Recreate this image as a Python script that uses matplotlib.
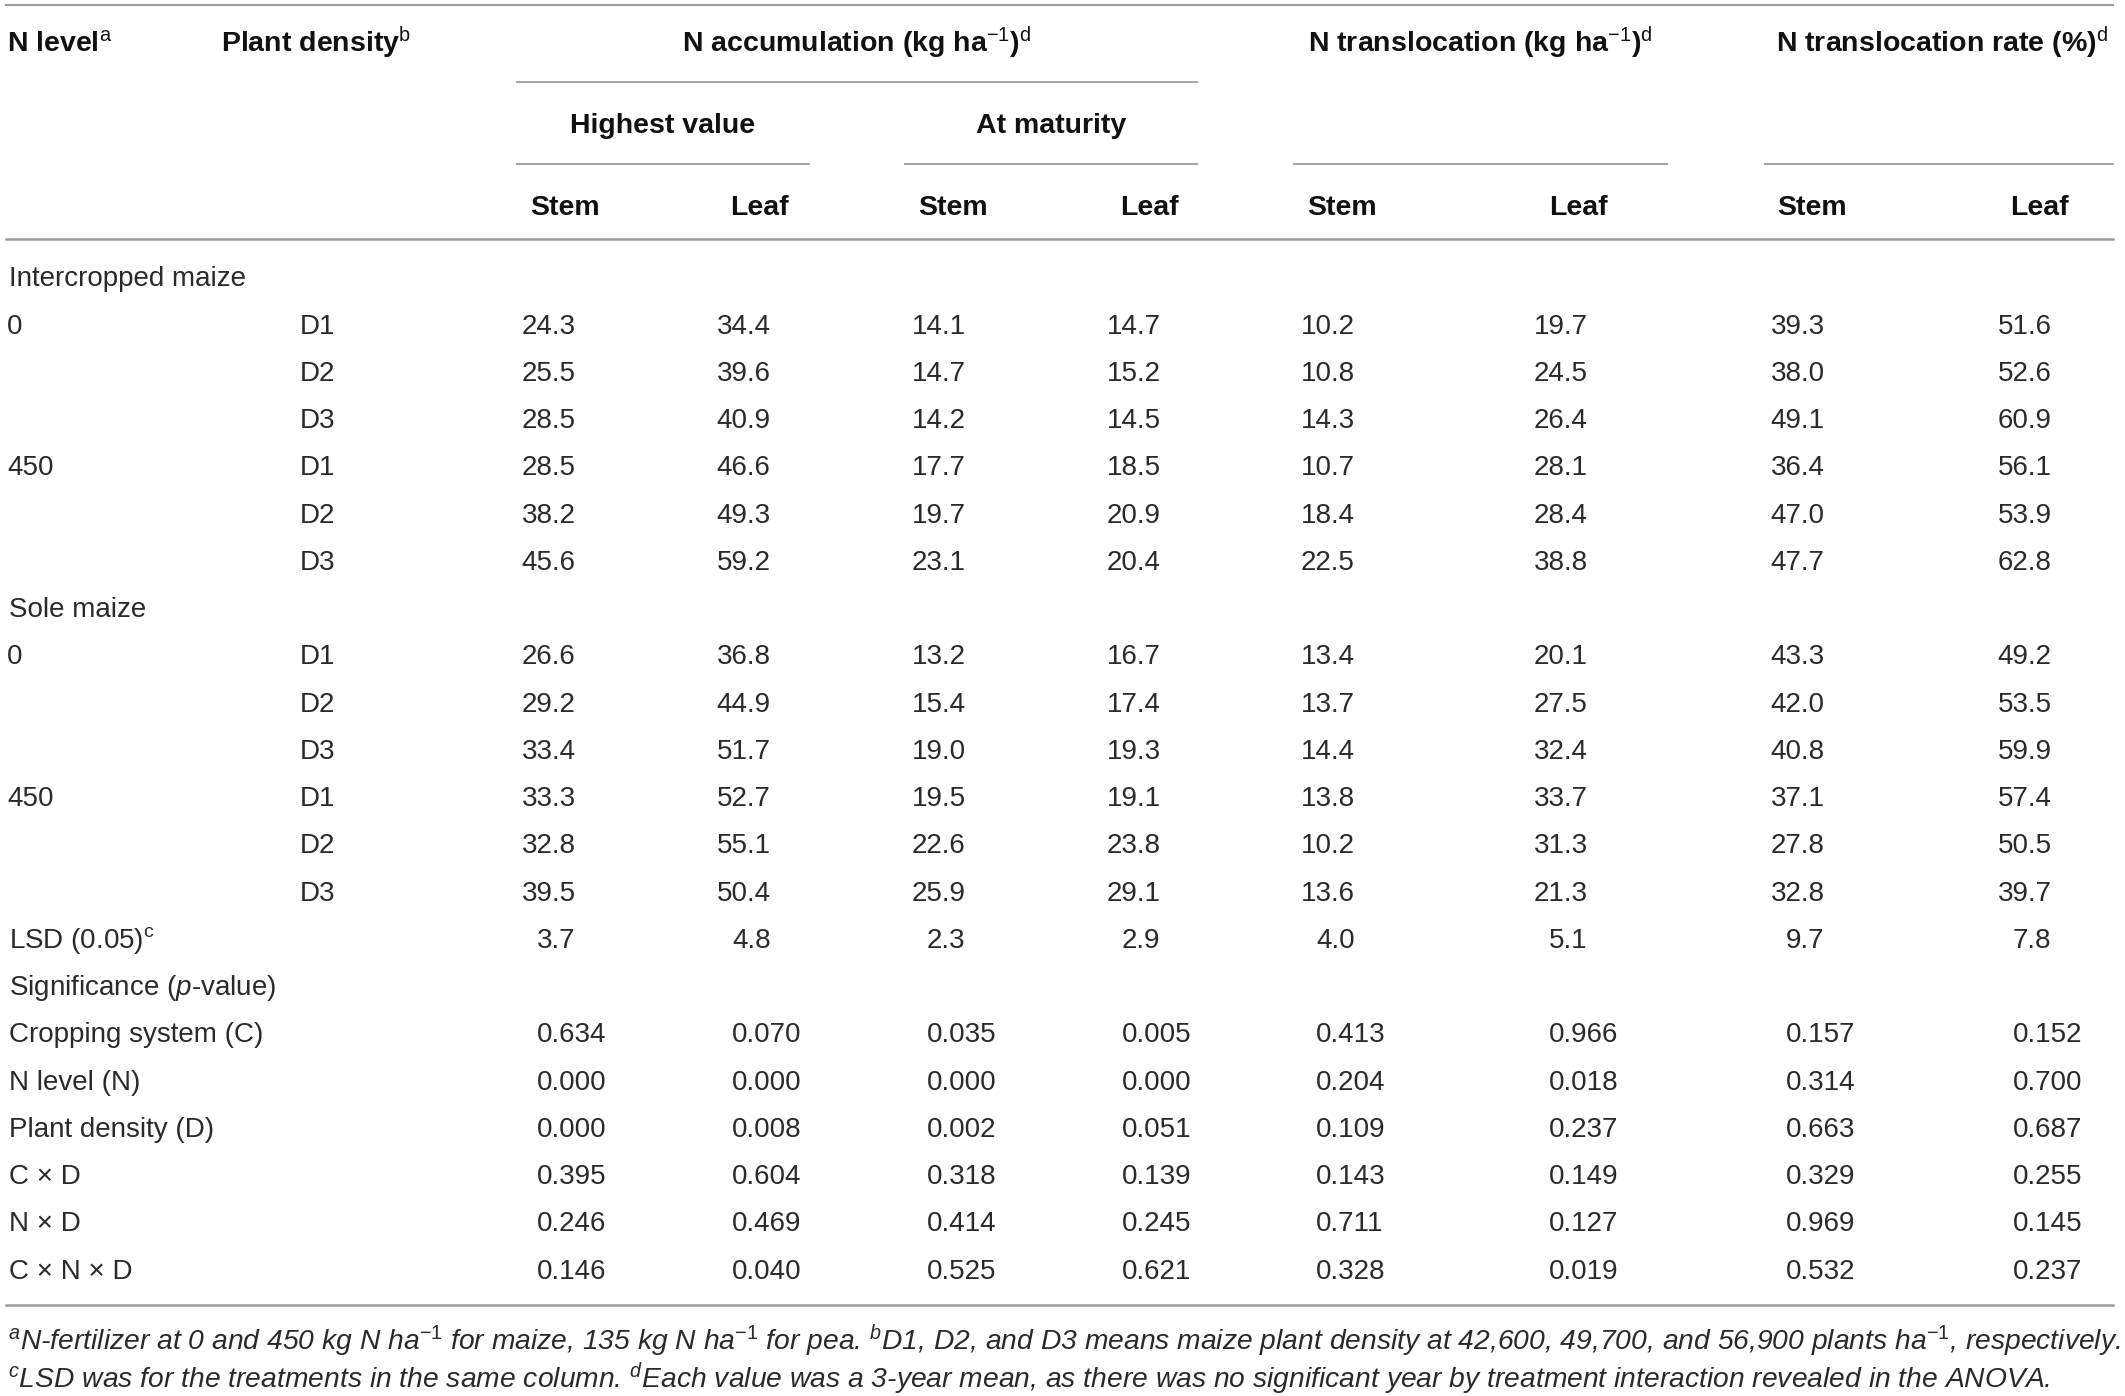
import matplotlib.pyplot as plt

plt.rcParams['font.family'] = ['Liberation Sans', 'DejaVu Sans']
plt.rcParams['mathtext.fontset'] = 'custom'
plt.rcParams['mathtext.rm'] = 'Liberation Sans'
plt.rcParams['mathtext.it'] = 'Liberation Sans:italic'
plt.rcParams['mathtext.bf'] = 'Liberation Sans:bold'

# Table content
col_groups = ['N accumulation (kg ha$^{-1}$)$^{\\mathrm{d}}$',
              'N translocation (kg ha$^{-1}$)$^{\\mathrm{d}}$',
              'N translocation rate (%)$^{\\mathrm{d}}$']
sub_groups = ['Highest value', 'At maturity']
parts = ['Stem', 'Leaf']

n_levels = ['0', '', '', '450', '', '']
densities = ['D1', 'D2', 'D3', 'D1', 'D2', 'D3']

intercropped = [
    ['24.3', '34.4', '14.1', '14.7', '10.2', '19.7', '39.3', '51.6'],
    ['25.5', '39.6', '14.7', '15.2', '10.8', '24.5', '38.0', '52.6'],
    ['28.5', '40.9', '14.2', '14.5', '14.3', '26.4', '49.1', '60.9'],
    ['28.5', '46.6', '17.7', '18.5', '10.7', '28.1', '36.4', '56.1'],
    ['38.2', '49.3', '19.7', '20.9', '18.4', '28.4', '47.0', '53.9'],
    ['45.6', '59.2', '23.1', '20.4', '22.5', '38.8', '47.7', '62.8'],
]
sole = [
    ['26.6', '36.8', '13.2', '16.7', '13.4', '20.1', '43.3', '49.2'],
    ['29.2', '44.9', '15.4', '17.4', '13.7', '27.5', '42.0', '53.5'],
    ['33.4', '51.7', '19.0', '19.3', '14.4', '32.4', '40.8', '59.9'],
    ['33.3', '52.7', '19.5', '19.1', '13.8', '33.7', '37.1', '57.4'],
    ['32.8', '55.1', '22.6', '23.8', '10.2', '31.3', '27.8', '50.5'],
    ['39.5', '50.4', '25.9', '29.1', '13.6', '21.3', '32.8', '39.7'],
]
lsd = ['3.7', '4.8', '2.3', '2.9', '4.0', '5.1', '9.7', '7.8']

sig_labels = ['Cropping system (C)', 'N level (N)', 'Plant density (D)',
              'C × D', 'N × D', 'C × N × D']
sig_values = [
    ['0.634', '0.070', '0.035', '0.005', '0.413', '0.966', '0.157', '0.152'],
    ['0.000', '0.000', '0.000', '0.000', '0.204', '0.018', '0.314', '0.700'],
    ['0.000', '0.008', '0.002', '0.051', '0.109', '0.237', '0.663', '0.687'],
    ['0.395', '0.604', '0.318', '0.139', '0.143', '0.149', '0.329', '0.255'],
    ['0.246', '0.469', '0.414', '0.245', '0.711', '0.127', '0.969', '0.145'],
    ['0.146', '0.040', '0.525', '0.621', '0.328', '0.019', '0.532', '0.237'],
]

footnote_1 = ('$^{\\mathit{a}}$N-fertilizer at 0 and 450 kg N ha$^{-1}$ for maize, '
              '135 kg N ha$^{-1}$ for pea. $^{\\mathit{b}}$D1, D2, and D3 means maize '
              'plant density at 42,600, 49,700, and 56,900 plants ha$^{-1}$, respectively.')
footnote_2 = ('$^{\\mathit{c}}$LSD was for the treatments in the same column. '
              '$^{\\mathit{d}}$Each value was a 3-year mean, as there was no significant '
              'year by treatment interaction revealed in the ANOVA.')

# Layout (pixels)
W, H = 2125, 1396
fig = plt.figure(figsize=(W / 100, H / 100), dpi=100)
ax = fig.add_axes([0, 0, 1, 1])
ax.set_xlim(0, W)
ax.set_ylim(H, 0)
ax.axis('off')

body_size = 20
head_size = 20.5
foot_size = 20.3
body_color = '#2a2a2a'
head_color = '#111111'
line_color = '#9c9c9c'

# left edge of a one-digit number in each column
col_x = [537, 732, 927, 1122, 1316, 1549, 1786, 2013]
digit_w = 15.3

row_y0 = 276.5
row_dy = 47.24


def row_base(i):
    return row_y0 + row_dy * i + 10


def put_number(c, i, s):
    n_int = len(s.split('.')[0])
    ax.text(col_x[c] - (n_int - 1) * digit_w, row_base(i), s, fontsize=body_size,
            color=body_color, ha='left', va='baseline')


def put_label(x, i, s):
    ax.text(x, row_base(i), s, fontsize=body_size, color=body_color,
            ha='left', va='baseline')


# Rules
ax.plot([6, 2113], [5, 5], color=line_color, lw=1.5)
ax.plot([517, 1197], [82, 82], color=line_color, lw=1.3)
for x0, x1 in [(517, 809), (905, 1197), (1294, 1667), (1765, 2113)]:
    ax.plot([x0, x1], [164, 164], color=line_color, lw=1.3)
ax.plot([6, 2113], [239, 239], color=line_color, lw=1.8)
ax.plot([6, 2113], [1305, 1305], color=line_color, lw=1.8)

# Header
ax.text(7, 52, 'N level$^{\\mathrm{a}}$', fontsize=head_size, fontweight='bold',
        color=head_color, ha='left', va='baseline')
ax.text(221, 52, 'Plant density$^{\\mathrm{b}}$', fontsize=head_size, fontweight='bold',
        color=head_color, ha='left', va='baseline')
group_centers = [857, 1480, 1942]
for gx, g in zip(group_centers, col_groups):
    ax.text(gx, 52, g, fontsize=head_size, fontweight='bold', color=head_color,
            ha='center', va='baseline')
for sx, s in zip([663, 1051], sub_groups):
    ax.text(sx, 133, s, fontsize=head_size, fontweight='bold', color=head_color,
            ha='center', va='baseline')
stem_x = [530, 918, 1307, 1777]
leaf_x = [789, 1179, 1608, 2069]
for sx, lx in zip(stem_x, leaf_x):
    ax.text(sx, 215, parts[0], fontsize=head_size, fontweight='bold', color=head_color,
            ha='left', va='baseline')
    ax.text(lx, 215, parts[1], fontsize=head_size, fontweight='bold', color=head_color,
            ha='right', va='baseline')

# Body
put_label(9, 0, 'Intercropped maize')
for k in range(6):
    put_label(7, 1 + k, n_levels[k])
    put_label(300, 1 + k, densities[k])
    for c, v in enumerate(intercropped[k]):
        put_number(c, 1 + k, v)

put_label(9, 7, 'Sole maize')
for k in range(6):
    put_label(7, 8 + k, n_levels[k])
    put_label(300, 8 + k, densities[k])
    for c, v in enumerate(sole[k]):
        put_number(c, 8 + k, v)

put_label(9, 14, 'LSD (0.05)$^{\\mathrm{c}}$')
for c, v in enumerate(lsd):
    put_number(c, 14, v)

put_label(9, 15, 'Significance ($\\mathit{p}$-value)')
for k in range(6):
    put_label(9, 16 + k, sig_labels[k])
    for c, v in enumerate(sig_values[k]):
        put_number(c, 16 + k, v)

# Footnotes
ax.text(8, 1350, footnote_1, fontsize=foot_size, style='italic', color=body_color,
        ha='left', va='baseline')
ax.text(8, 1388, footnote_2, fontsize=foot_size, style='italic', color=body_color,
        ha='left', va='baseline')

fig.savefig('out.png', dpi=100)
